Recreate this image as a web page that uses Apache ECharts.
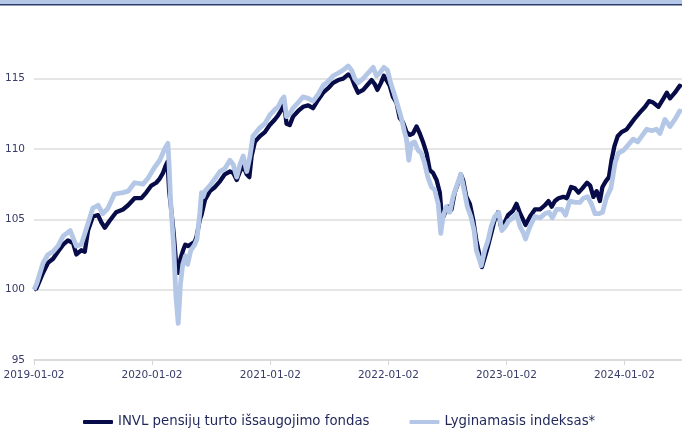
<!DOCTYPE html>
<html>
<head>
<meta charset="utf-8">
<script src="https://cdn.jsdelivr.net/npm/echarts@6/dist/echarts.min.js"></script>
<style>
html,body{margin:0;padding:0;background:#fff;}
#chart{width:682px;height:428px;}
</style>
</head>
<body>
<div id="chart"></div>
<script>
// ---- data ----
const seriesNames = ['INVL pensijų turto išsaugojimo fondas', 'Lyginamasis indeksas*'];
const tickLabels = ['2019-01-02','2020-01-02','2021-01-02','2022-01-02','2023-01-02','2024-01-02'];
const yTicks = [95, 100, 105, 110, 115, 120];

const fundDates = [
'2019-01-02','2019-01-10','2019-01-30','2019-02-14','2019-03-02','2019-03-17','2019-04-02','2019-04-17','2019-05-03','2019-05-13',
'2019-05-28','2019-06-08','2019-06-18','2019-07-03','2019-07-19','2019-07-29','2019-08-09','2019-08-24','2019-09-13','2019-10-04',
'2019-10-20','2019-11-09','2019-11-30','2019-12-15','2019-12-31','2020-01-15','2020-01-26','2020-02-05','2020-02-13','2020-02-19',
'2020-02-24','2020-02-28','2020-03-09','2020-03-16','2020-03-23','2020-03-30','2020-04-07','2020-04-14','2020-04-23','2020-05-13',
'2020-05-19','2020-05-29','2020-06-03','2020-06-14','2020-06-29','2020-07-15','2020-07-30','2020-08-14','2020-08-30','2020-09-09',
'2020-09-20','2020-09-30','2020-10-10','2020-10-21','2020-10-29','2020-11-05','2020-11-15','2020-11-30','2020-12-16','2020-12-31',
'2021-01-16','2021-01-26','2021-02-06','2021-02-13','2021-02-21','2021-03-03','2021-03-13','2021-03-29','2021-04-13','2021-04-29',
'2021-05-14','2021-05-30','2021-06-14','2021-06-29','2021-07-15','2021-07-31','2021-08-15','2021-08-31','2021-09-10','2021-09-20',
'2021-09-30','2021-10-16','2021-10-31','2021-11-11','2021-11-21','2021-11-29','2021-12-10','2021-12-19','2021-12-27','2022-01-06',
'2022-01-16','2022-01-27','2022-02-06','2022-02-16','2022-02-27','2022-03-09','2022-03-19','2022-03-30','2022-04-09','2022-04-19',
'2022-04-30','2022-05-10','2022-05-20','2022-05-31','2022-06-10','2022-06-17','2022-06-25','2022-07-06','2022-07-16','2022-07-26',
'2022-08-06','2022-08-14','2022-08-21','2022-08-31','2022-09-11','2022-09-21','2022-10-01','2022-10-12','2022-10-18','2022-10-27',
'2022-11-06','2022-11-16','2022-11-27','2022-12-07','2022-12-17','2022-12-28','2023-01-07','2023-01-22','2023-02-02','2023-02-12',
'2023-02-24','2023-03-02','2023-03-16','2023-03-31','2023-04-16','2023-05-01','2023-05-12','2023-05-22','2023-06-01','2023-06-12',
'2023-06-27','2023-07-08','2023-07-21','2023-08-02','2023-08-13','2023-08-25','2023-09-08','2023-09-18','2023-09-28','2023-10-08',
'2023-10-18','2023-10-26','2023-11-05','2023-11-15','2023-11-23','2023-12-02','2023-12-12','2023-12-24','2024-01-09','2024-01-22',
'2024-02-04','2024-02-19','2024-03-06','2024-03-18','2024-03-31','2024-04-16','2024-05-02','2024-05-12','2024-05-22','2024-06-06',
'2024-06-21','2024-06-27'
];
const fundValues = [
100.0,100.1,101.2,101.9,102.2,102.7,103.2,103.5,103.3,102.5,
102.8,102.7,104.2,105.2,105.3,104.8,104.4,104.9,105.5,105.7,
106.0,106.5,106.5,106.9,107.4,107.6,107.9,108.3,108.8,109.1,
107.0,106.2,104.0,102.0,101.2,102.2,102.8,103.2,103.1,103.4,
103.8,105.0,105.3,106.4,107.0,107.3,107.7,108.2,108.4,108.3,
107.8,108.4,108.8,108.2,108.0,109.5,110.5,110.9,111.2,111.7,
112.1,112.4,112.8,113.3,111.8,111.7,112.3,112.7,113.0,113.1,
112.9,113.5,114.0,114.3,114.7,114.9,115.0,115.3,115.1,114.5,
114.0,114.2,114.6,114.9,114.6,114.2,114.7,115.2,114.9,114.5,
113.7,113.3,112.2,111.9,111.2,111.0,111.1,111.6,111.1,110.5,
109.7,108.5,108.3,107.8,106.9,105.0,105.4,105.9,105.7,106.9,
107.6,108.2,107.8,106.6,106.1,105.0,103.5,102.3,101.6,102.3,
103.1,104.0,105.0,105.5,104.4,104.8,105.3,105.6,106.1,105.5,
104.9,104.6,105.2,105.7,105.7,106.0,106.3,105.9,106.3,106.5,
106.6,106.5,107.3,107.2,106.9,107.2,107.6,107.4,106.6,107.0,
106.3,107.3,107.7,108.0,109.2,110.2,110.9,111.2,111.4,111.8,
112.2,112.6,113.0,113.4,113.3,113.0,113.6,114.0,113.6,114.0,
114.5,114.4
];

const indexDates = [
'2019-01-02','2019-01-10','2019-01-30','2019-02-14','2019-03-02','2019-03-17','2019-04-02','2019-04-24','2019-05-13','2019-05-28',
'2019-06-18','2019-07-03','2019-07-19','2019-08-03','2019-08-19','2019-09-08','2019-10-04','2019-10-20','2019-11-09','2019-12-05',
'2019-12-20','2020-01-10','2020-01-26','2020-02-10','2020-02-20','2020-02-24','2020-02-28','2020-03-09','2020-03-16','2020-03-23',
'2020-03-30','2020-04-06','2020-04-14','2020-04-21','2020-05-01','2020-05-13','2020-05-20','2020-05-29','2020-06-03','2020-06-08',
'2020-06-14','2020-06-29','2020-07-15','2020-07-30','2020-08-14','2020-08-30','2020-09-09','2020-09-20','2020-09-30','2020-10-10',
'2020-10-21','2020-10-31','2020-11-09','2020-11-30','2020-12-16','2020-12-31','2021-01-16','2021-01-26','2021-02-06','2021-02-13',
'2021-02-21','2021-03-03','2021-03-13','2021-03-29','2021-04-13','2021-04-29','2021-05-14','2021-05-30','2021-06-14','2021-06-29',
'2021-07-15','2021-07-31','2021-08-15','2021-08-31','2021-09-10','2021-09-20','2021-09-30','2021-10-16','2021-10-31','2021-11-16',
'2021-11-26','2021-12-06','2021-12-19','2021-12-30','2022-01-09','2022-01-19','2022-02-01','2022-02-11','2022-02-21','2022-02-27',
'2022-03-06','2022-03-14','2022-03-24','2022-04-04','2022-04-14','2022-04-24','2022-05-04','2022-05-15','2022-05-25','2022-06-05',
'2022-06-13','2022-06-20','2022-06-30','2022-07-11','2022-07-21','2022-07-31','2022-08-14','2022-08-24','2022-09-03','2022-09-14',
'2022-09-24','2022-10-01','2022-10-11','2022-10-16','2022-10-27','2022-11-06','2022-11-16','2022-11-27','2022-12-09','2022-12-19',
'2022-12-30','2023-01-09','2023-01-22','2023-02-02','2023-02-13','2023-02-24','2023-03-02','2023-03-16','2023-03-31','2023-04-16',
'2023-05-01','2023-05-14','2023-05-24','2023-06-06','2023-06-22','2023-07-04','2023-07-17','2023-08-02','2023-08-17','2023-08-28',
'2023-09-10','2023-09-22','2023-10-03','2023-10-15','2023-10-26','2023-11-08','2023-11-21','2023-12-04','2023-12-14','2023-12-30',
'2024-01-14','2024-01-29','2024-02-12','2024-02-24','2024-03-11','2024-03-26','2024-04-10','2024-04-21','2024-05-06','2024-05-22',
'2024-06-06','2024-06-21','2024-06-27'
];
const indexValues = [
100.0,100.4,101.9,102.5,102.7,103.1,103.8,104.2,103.1,103.2,
104.7,105.8,106.0,105.4,105.8,106.8,106.9,107.0,107.6,107.5,
107.9,108.7,109.2,110.0,110.4,108.8,106.5,103.0,99.5,97.6,
100.4,101.8,102.4,101.8,102.8,103.2,103.6,105.5,106.9,106.6,
107.0,107.4,107.9,108.4,108.6,109.2,108.9,108.0,108.9,109.5,
108.4,109.5,110.9,111.5,111.8,112.4,112.8,113.0,113.5,113.7,
112.3,112.5,112.9,113.3,113.7,113.6,113.4,113.9,114.5,114.8,
115.2,115.4,115.6,115.9,115.6,115.0,114.7,115.0,115.4,115.8,
115.2,115.4,115.8,115.6,114.7,114.0,113.0,112.2,111.2,110.7,
109.2,110.4,110.5,109.9,109.7,109.0,108.0,107.3,107.1,106.1,
104.0,105.2,105.9,105.5,106.6,107.3,108.2,107.1,105.9,105.2,
104.2,102.8,102.1,101.7,102.8,103.5,104.5,105.2,105.5,104.2,
104.5,104.9,105.1,105.4,104.5,104.0,103.6,104.5,105.2,105.1,
105.4,105.5,105.1,105.7,105.7,105.3,106.3,106.2,106.2,106.5,
106.6,106.1,105.4,105.4,105.5,106.6,107.2,109.0,109.7,109.9,
110.3,110.7,110.5,110.9,111.4,111.3,111.4,111.1,112.1,111.6,
112.1,112.7,112.6
];

// ---- chart ----
const parseT = s => +echarts.time.parse(s);
const tickValues = tickLabels.map(parseT);
const pair = (ds, vs) => ds.map((d, i) => [parseT(d), vs[i]]);

const FONT = "'DejaVu Sans', sans-serif";
const LABEL_COLOR = '#383c68';
const DARK = '#070b48';
const LIGHT = '#b4c7e7';

const chart = echarts.init(document.getElementById('chart'), null, {renderer: 'canvas'});
chart.setOption({
  animation: false,
  backgroundColor: '#ffffff',
  textStyle: {fontFamily: FONT},
  graphic: [
    {type: 'rect', left: 0, top: 0, shape: {x: 0, y: 0, width: 682, height: 4}, style: {fill: '#b4c7e7'}, silent: true},
    {type: 'rect', left: 0, top: 4, shape: {x: 0, y: 0, width: 682, height: 1.6}, style: {fill: '#2c3d6b'}, silent: true}
  ],
  grid: {left: 34, right: 0, top: 8.3, bottom: 68, containLabel: false},
  legend: {
    left: 83, top: 415.5, padding: 0,
    itemWidth: 30, itemHeight: 4, itemGap: 40,
    icon: 'roundRect',
    textStyle: {fontFamily: FONT, fontSize: 13.3, color: '#1f275a'},
    data: [
      {name: seriesNames[0], itemStyle: {color: DARK}},
      {name: seriesNames[1], itemStyle: {color: LIGHT}}
    ]
  },
  xAxis: {
    type: 'value',
    min: parseT('2019-01-02'),
    max: parseT('2024-06-28'),
    axisLine: {show: true, lineStyle: {color: '#d6d6d6', width: 1.5}},
    axisTick: {show: true, length: 5, lineStyle: {color: '#d6d6d6'}, customValues: tickValues},
    splitLine: {show: false},
    axisLabel: {
      customValues: tickValues,
      margin: 9.5,
      fontFamily: FONT, fontSize: 10.5, color: LABEL_COLOR,
      formatter: v => { const i = tickValues.indexOf(v); return i >= 0 ? tickLabels[i] : ''; }
    }
  },
  yAxis: {
    type: 'value',
    min: yTicks[0], max: yTicks[yTicks.length - 1], interval: 5,
    axisLine: {show: false},
    axisTick: {show: false},
    splitLine: {show: true, showMaxLine: false, lineStyle: {color: '#dcdcdc', width: 1.5}},
    axisLabel: {showMaxLabel: false, margin: 9, fontFamily: FONT, fontSize: 10.5, color: LABEL_COLOR}
  },
  series: [
    {name: seriesNames[0], type: 'line', showSymbol: false, symbol: 'none',
     data: pair(fundDates, fundValues),
     lineStyle: {color: DARK, width: 4.3, join: 'round'}, itemStyle: {color: DARK}},
    {name: seriesNames[1], type: 'line', showSymbol: false, symbol: 'none',
     data: pair(indexDates, indexValues),
     lineStyle: {color: LIGHT, width: 4.8, join: 'round'}, itemStyle: {color: LIGHT}}
  ]
});
</script>
</body>
</html>
